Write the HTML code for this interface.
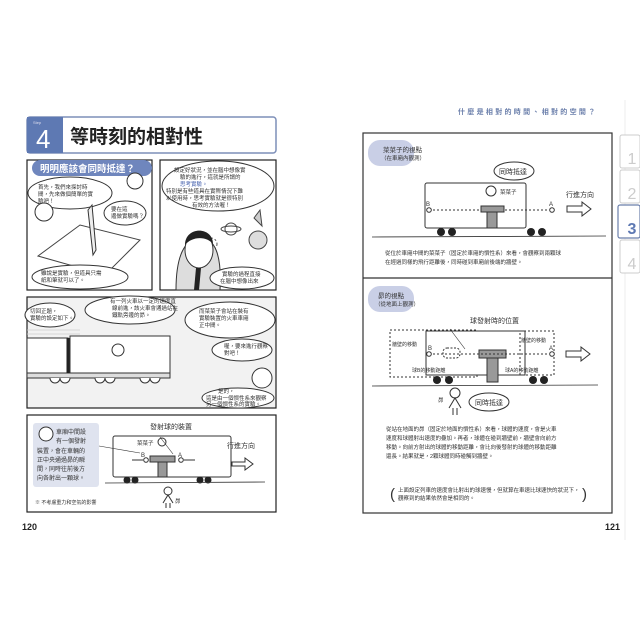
<!DOCTYPE html>
<html><head><meta charset="utf-8"><style>
html,body{margin:0;padding:0;background:#fff;width:640px;height:640px;overflow:hidden}
svg{display:block}
text{font-family:"Liberation Sans","Noto Sans CJK TC",sans-serif;fill:#333}
</style></head><body>
<svg width="640" height="640" viewBox="0 0 640 640" xmlns="http://www.w3.org/2000/svg">
<!-- LEFT PAGE -->
<rect x="27" y="117" width="249" height="36" rx="3" fill="#fff" stroke="#7d8fb8" stroke-width="1.5"/>
<rect x="27" y="117" width="36" height="36" fill="#5e79b3"/>
<text x="33" y="124" font-size="4" fill="#fff" style="fill:#dde">Step</text>
<text x="36" y="148" font-size="26" style="fill:#fff">4</text>
<text x="70" y="143" font-size="19" font-weight="bold" style="fill:#222">等時刻的相對性</text>

<!-- panels -->
<rect x="27" y="160" width="125" height="130" fill="#fff" stroke="#222" stroke-width="1.2"/>
<rect x="160" y="160" width="116" height="130" fill="#fff" stroke="#222" stroke-width="1.2"/>
<rect x="27" y="297" width="249" height="111" fill="#f2f2f2" stroke="#222" stroke-width="1.2"/>
<rect x="27" y="415" width="249" height="97" fill="#fff" stroke="#222" stroke-width="1.2"/>

<rect x="32" y="160" width="120" height="16" rx="8" fill="#6f86bd"/>
<text x="40" y="172" font-size="9.5" font-weight="bold" style="fill:#fff">明明應該會同時抵達？</text>

<!-- panel1 -->
<ellipse cx="70" cy="193" rx="42" ry="16" fill="#fff" stroke="#333"/>
<text x="38" y="189" font-size="5.5">首先，我們來探討時</text>
<text x="38" y="196" font-size="5.5">間，先來做個簡單的實</text>
<text x="38" y="203" font-size="5.5">驗吧！</text>
<ellipse cx="125" cy="213" rx="21" ry="12" fill="#fff" stroke="#333"/>
<text x="111" y="211" font-size="5.5">要在這</text>
<text x="111" y="218" font-size="5.5">邊做實驗嗎？</text>
<circle cx="44" cy="212" r="9" fill="#fff" stroke="#333"/>
<circle cx="135" cy="181" r="8" fill="#fff" stroke="#333"/>
<path d="M38 256 L80 225 L140 240 L105 275 Z" fill="#fff" stroke="#444"/>
<path d="M88 210 L92 205 L96 250 L93 255 Z" fill="#eee" stroke="#333"/>
<ellipse cx="80" cy="277" rx="48" ry="12" fill="#fff" stroke="#333"/>
<text x="41" y="275" font-size="5.5">雖說是實驗，但道具只需</text>
<text x="41" y="282" font-size="5.5">紙和筆就可以了。</text>

<!-- panel2 -->
<ellipse cx="218" cy="186" rx="56" ry="25" fill="#fff" stroke="#333"/>
<text x="174" y="172" font-size="5.5">設定好狀況，並在腦中想像實</text>
<text x="180" y="179" font-size="5.5">驗的進行，這就是所謂的</text>
<text x="180" y="186" font-size="5.5" style="fill:#4b66b0">思考實驗。</text>
<text x="166" y="193" font-size="5.5">特別是有些道具在實際情況下難</text>
<text x="166" y="200" font-size="5.5">以使用時，思考實驗就是很特別</text>
<text x="192" y="207" font-size="5.5">有效的方法喔！</text>
<circle cx="231" cy="229" r="6" fill="none" stroke="#444"/>
<ellipse cx="231" cy="229" rx="10" ry="3" fill="none" stroke="#444"/>
<circle cx="258" cy="240" r="9" fill="#ddd" stroke="#444"/>
<path d="M254 218 L260 210 L262 226 Z" fill="#ccc" stroke="#444"/>
<circle cx="211" cy="244" r="6" fill="none" stroke="#555" stroke-dasharray="2 2"/>
<path d="M176 290 C176 255 185 240 198 238 C215 236 222 255 220 290 Z" fill="#ddd" stroke="#333"/>
<ellipse cx="199" cy="250" rx="14" ry="18" fill="#fff" stroke="#333"/>
<path d="M185 245 C185 226 213 226 213 244 C207 236 192 236 185 245Z" fill="#222"/>
<path d="M196 268 L201 268 L199 290 L194 290Z" fill="#222"/>
<ellipse cx="242" cy="278" rx="32" ry="11" fill="#fff" stroke="#333"/>
<text x="222" y="276" font-size="5.5">實驗的過程直接</text>
<text x="220" y="283" font-size="5.5">在腦中想像出來</text>

<!-- panel3 -->
<g stroke="#ccc" stroke-width="0.8"><line x1="27" y1="330" x2="80" y2="330"/><line x1="27" y1="334" x2="80" y2="334"/><line x1="27" y1="338" x2="70" y2="338"/><line x1="27" y1="342" x2="80" y2="342"/></g>
<ellipse cx="50" cy="315" rx="25" ry="12" fill="#fff" stroke="#333"/>
<text x="30" y="313" font-size="5.5">切回正題，</text>
<text x="30" y="320" font-size="5.5">實驗的設定如下。</text>
<ellipse cx="130" cy="310" rx="45" ry="14" fill="#fff" stroke="#333"/>
<text x="110" y="303" font-size="5.5">有一列火車以一定的速度直</text>
<text x="112" y="310" font-size="5.5">線前進，該火車會通過站在</text>
<text x="112" y="317" font-size="5.5">鐵軌旁邊的昴。</text>
<ellipse cx="230" cy="320" rx="45" ry="18" fill="#fff" stroke="#333"/>
<text x="199" y="313" font-size="5.5">而菜菜子會站在裝有</text>
<text x="199" y="320" font-size="5.5">實驗裝置的火車車廂</text>
<text x="199" y="327" font-size="5.5">正中間。</text>
<rect x="27" y="338" width="41" height="35" fill="#fff" stroke="#333"/>
<rect x="70" y="336" width="100" height="37" fill="#fff" stroke="#333"/>
<rect x="27" y="373" width="143" height="5" fill="#ddd" stroke="#333"/>
<line x1="68" y1="338" x2="68" y2="373" stroke="#222" stroke-width="3"/>
<g fill="#fff" stroke="#333"><path d="M50 378 a5 5 0 0 0 10 0"/><path d="M60 378 a5 5 0 0 0 10 0"/><path d="M95 378 a5 5 0 0 0 10 0"/><path d="M105 378 a5 5 0 0 0 10 0"/><path d="M140 378 a5 5 0 0 0 10 0"/><path d="M150 378 a5 5 0 0 0 10 0"/></g>
<circle cx="118" cy="350" r="6" fill="#fff" stroke="#333"/>
<ellipse cx="242" cy="350" rx="30" ry="11" fill="#fff" stroke="#333"/>
<text x="224" y="348" font-size="5.5">喔，要來進行觀察</text>
<text x="224" y="355" font-size="5.5">對吧！</text>
<circle cx="262" cy="378" r="10" fill="#fff" stroke="#333"/>
<ellipse cx="238" cy="398" rx="36" ry="10" fill="#fff" stroke="#333"/>
<text x="218" y="393" font-size="5.5">是的，</text>
<text x="206" y="400" font-size="5.5">這是由一個慣性系來觀察</text>
<text x="206" y="406" font-size="5.5">另一個慣性系的實驗。</text>

<!-- panel4 -->
<rect x="33" y="423" width="66" height="64" rx="3" fill="#dfe3ef"/>
<circle cx="46" cy="434" r="7" fill="#fff" stroke="#333"/>
<text x="56" y="434" font-size="6">車廂中間設</text>
<text x="56" y="443" font-size="6">有一個發射</text>
<text x="37" y="453" font-size="6">裝置，會在車輛的</text>
<text x="37" y="462" font-size="6">正中央通過昴的瞬</text>
<text x="37" y="471" font-size="6">間，同時往前後方</text>
<text x="37" y="480" font-size="6">向各射出一顆球。</text>
<text x="150" y="429" font-size="7">發射球的裝置</text>
<rect x="113" y="436" width="118" height="41" rx="2" fill="#fff" stroke="#333"/>
<line x1="99" y1="446" x2="140" y2="453" stroke="#333" stroke-width="0.6"/>
<text x="137" y="445" font-size="5.5">菜菜子</text>
<circle cx="162" cy="442" r="4" fill="#fff" stroke="#333"/>
<rect x="150" y="456" width="25" height="6" fill="#999" stroke="#333"/>
<rect x="158" y="462" width="9" height="15" fill="#999" stroke="#333"/>
<text x="141" y="457" font-size="6">B</text><text x="178" y="457" font-size="6">A</text>
<circle cx="146" cy="460" r="2.3" fill="#fff" stroke="#333"/><circle cx="181" cy="460" r="2.3" fill="#fff" stroke="#333"/>
<line x1="132" y1="460" x2="143" y2="460" stroke="#333"/><line x1="184" y1="460" x2="195" y2="460" stroke="#333"/>
<line x1="160" y1="437" x2="173" y2="454" stroke="#333" stroke-width="0.6"/>
<g fill="#222"><circle cx="127" cy="480" r="3.5"/><circle cx="135" cy="480" r="3.5"/><circle cx="200" cy="480" r="3.5"/><circle cx="208" cy="480" r="3.5"/></g>
<line x1="105" y1="483" x2="265" y2="482" stroke="#333" stroke-width="0.8"/>
<text x="227" y="448" font-size="7">行進方向</text>
<path d="M232 462 h13 v-4 l8 6 l-8 6 v-4 h-13z" fill="#fff" stroke="#333"/>
<circle cx="168" cy="491" r="4" fill="#fff" stroke="#333"/>
<path d="M163 503 L168 495 L173 503 M166 503 v5 M170 503 v5" fill="none" stroke="#333"/>
<text x="175" y="503" font-size="5.5">昴</text>
<text x="35" y="504" font-size="5">※ 不考慮重力和空氣的影響</text>
<text x="22" y="530" font-size="9" font-weight="bold" style="fill:#222">120</text>

<!-- RIGHT PAGE -->
<text x="458" y="114" font-size="7" font-weight="bold" letter-spacing="2.3" style="fill:#6b7fab">什麼是相對的時間、相對的空間？</text>
<line x1="625" y1="100" x2="625" y2="540" stroke="#eee"/>
<g font-size="16" text-anchor="middle">
<rect x="620" y="135" width="20" height="33" rx="2" fill="#fff" stroke="#ccc"/><text x="632" y="164" style="fill:#ccc">1</text>
<rect x="620" y="170" width="20" height="33" rx="2" fill="#fff" stroke="#ccc"/><text x="632" y="199" style="fill:#ccc">2</text>
<rect x="618" y="205" width="22" height="33" rx="2" fill="#fff" stroke="#6b7fab" stroke-width="1.2"/><text x="632" y="234" font-weight="bold" style="fill:#5e79b3">3</text>
<rect x="620" y="240" width="20" height="33" rx="2" fill="#fff" stroke="#ccc"/><text x="632" y="269" style="fill:#ccc">4</text>
</g>
<rect x="363" y="133" width="249" height="380" fill="#fff" stroke="#333" stroke-width="1.2"/>
<line x1="363" y1="278" x2="612" y2="278" stroke="#333" stroke-width="1.2"/>

<!-- box1 -->
<rect x="368" y="140" width="46" height="26" rx="12" fill="#c9cfe6"/>
<text x="383" y="152" font-size="6.5">菜菜子的視點</text>
<text x="381" y="160" font-size="5.5">（在車廂內觀測）</text>
<ellipse cx="514" cy="171" rx="20" ry="9" fill="#fff" stroke="#333"/>
<text x="499" y="174" font-size="7">同時抵達</text>
<rect x="425" y="183" width="101" height="45" rx="2" fill="#fff" stroke="#333"/>
<circle cx="491" cy="191" r="5" fill="#fff" stroke="#333"/>
<text x="500" y="194" font-size="5.5">菜菜子</text>
<rect x="481" y="206" width="23" height="6" fill="#999" stroke="#333"/>
<rect x="487" y="212" width="10" height="16" fill="#999" stroke="#333"/>
<text x="426" y="206" font-size="6">B</text><text x="549" y="206" font-size="6">A</text>
<circle cx="429" cy="210" r="2.3" fill="#fff" stroke="#333"/><circle cx="552" cy="210" r="2.3" fill="#fff" stroke="#333"/>
<line x1="433" y1="210" x2="480" y2="210" stroke="#333" stroke-dasharray="2 2"/>
<line x1="505" y1="210" x2="548" y2="210" stroke="#333" stroke-dasharray="2 2"/>
<g fill="#222"><circle cx="441" cy="232" r="4"/><circle cx="452" cy="232" r="4"/><circle cx="531" cy="232" r="4"/><circle cx="542" cy="232" r="4"/></g>
<line x1="372" y1="237" x2="606" y2="236" stroke="#333" stroke-width="0.8"/>
<text x="566" y="197" font-size="7">行進方向</text>
<path d="M567 206 h15 v-4 l9 7 l-9 7 v-4 h-15z" fill="#fff" stroke="#333"/>
<text x="385" y="255" font-size="5.5">從位於車廂中間的菜菜子（固定於車廂的慣性系）來看，會觀察到兩顆球</text>
<text x="385" y="264" font-size="5.5">在經過同樣的飛行距離後，同時碰到車廂前後端的牆壁。</text>

<!-- box2 -->
<rect x="368" y="286" width="46" height="26" rx="12" fill="#c9cfe6"/>
<text x="378" y="298" font-size="6.5">昴的視點</text>
<text x="375" y="306" font-size="5.5">（從地面上觀測）</text>
<text x="470" y="323" font-size="7">球發射時的位置</text>
<rect x="390" y="330" width="87" height="47" fill="none" stroke="#333" stroke-dasharray="2 2"/>
<rect x="426" y="331" width="99" height="44" fill="#fff" stroke="#333"/>
<rect x="520" y="331" width="34" height="44" fill="none" stroke="#333" stroke-dasharray="2 2"/>
<text x="392" y="346" font-size="5">牆壁的移動</text>
<text x="521" y="342" font-size="5">牆壁的移動</text>
<rect x="479" y="350" width="27" height="8" fill="#999" stroke="#333"/>
<rect x="487" y="358" width="11" height="24" fill="#999" stroke="#333"/>
<text x="428" y="350" font-size="6">B</text><text x="549" y="350" font-size="6">A</text>
<circle cx="429" cy="354" r="2.3" fill="#fff" stroke="#333"/><circle cx="552" cy="354" r="2.3" fill="#fff" stroke="#333"/>
<line x1="433" y1="354" x2="548" y2="354" stroke="#333" stroke-dasharray="2 2"/>
<rect x="443" y="348" width="17" height="10" rx="4" fill="none" stroke="#333" stroke-dasharray="2 1.5"/>
<line x1="450" y1="329" x2="465" y2="349" stroke="#333" stroke-width="0.6"/>
<text x="412" y="372" font-size="5">球B的移動距離</text>
<text x="505" y="372" font-size="5">球A的移動距離</text>
<g fill="#222"><circle cx="437" cy="380" r="4"/><circle cx="449" cy="380" r="4"/><circle cx="533" cy="380" r="4"/><circle cx="544" cy="380" r="4"/></g>
<line x1="372" y1="386" x2="598" y2="385" stroke="#333" stroke-width="0.8"/>
<path d="M566 351 h15 v-4 l9 7 l-9 7 v-4 h-15z" fill="#fff" stroke="#333"/>
<circle cx="455" cy="393" r="5" fill="#fff" stroke="#333"/>
<path d="M449 408 L455 398 L461 408 M453 408 v7 M457 408 v7" fill="none" stroke="#333"/>
<text x="438" y="402" font-size="5.5">昴</text>
<ellipse cx="489" cy="402" rx="20" ry="9" fill="#fff" stroke="#333"/>
<text x="475" y="405" font-size="7">同時抵達</text>
<g font-size="5.5">
<text x="386" y="431">從站在地面的昴（固定於地面的慣性系）來看，球體的速度，會是火車</text>
<text x="386" y="440">速度和球體射出速度的疊加。再者，球體在碰到牆壁前，牆壁會向前方</text>
<text x="386" y="449">移動。向前方射出的球體的移動距離，會比向後發射的球體的移動距離</text>
<text x="386" y="458">還長。結果就是，2顆球體同時碰觸到牆壁。</text>
<text x="398" y="492">上面設定列車的速度會比射出的球速慢，但就算在車速比球速快的狀況下，</text>
<text x="398" y="500">觀察到的結果依然會是相同的。</text>
</g>
<text x="390" y="499" font-size="15" style="fill:#333">(</text>
<text x="582" y="499" font-size="15" style="fill:#333">)</text>
<text x="605" y="530" font-size="9" font-weight="bold" style="fill:#222">121</text>
</svg>
</body></html>
